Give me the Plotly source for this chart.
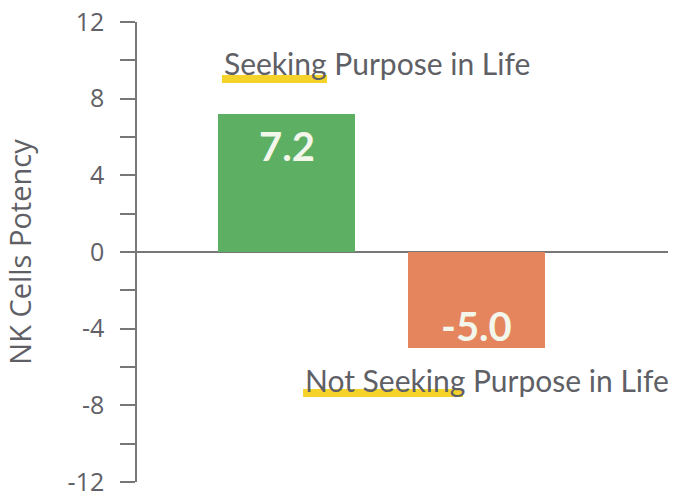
import plotly.graph_objects as go

categories = ["Seeking Purpose in Life", "Not Seeking Purpose in Life"]
values = [7.2, -5.0]
value_labels = ["7.2", "-5.0"]
bar_colors = ["#5DAF63", "#E5855D"]
y_tick_vals = [12, 8, 4, 0, -4, -8, -12]
y_tick_text = ["12", "8", "4", "0", "-4", "-8", "-12"]

x_pos = [0, 1]

fig = go.Figure()
fig.add_trace(go.Bar(
    x=x_pos, y=values, width=0.72,
    marker=dict(color=bar_colors, line=dict(width=0)),
    hoverinfo="skip",
))

# value labels placed inside the bar, near its end
label_inset = [1.67, -1.14]
for xv, v, t, d in zip(x_pos, values, value_labels, label_inset):
    fig.add_annotation(x=xv, y=v - d, xref="x", yref="y", text=t, showarrow=False,
                       xanchor="center", yanchor="middle",
                       font=dict(family="Lato", size=40, color="#F3F6EA", weight="bold"))

# Category captions with yellow highlight under the first word(s)
captions = [
    dict(x=-0.340, y=9.86, text=categories[0], hl=(-0.340, 0.213, 8.82, 9.23)),
    dict(x=0.087, y=-6.68, text=categories[1], hl=(0.087, 0.929, -7.56, -7.15)),
]
for c in captions:
    x0, x1, y0, y1 = c["hl"]
    fig.add_shape(type="rect", xref="x", yref="y", x0=x0, x1=x1, y0=y0, y1=y1,
                  fillcolor="#F6D32A", line=dict(width=0), layer="below")
    fig.add_annotation(x=c["x"], y=c["y"], xref="x", yref="y", text=c["text"],
                       showarrow=False, xanchor="left", yanchor="middle",
                       font=dict(family="Lato", size=30, color="#5F5F66"))

fig.update_layout(
    width=673, height=495,
    margin=dict(l=137, r=5, t=22, b=13),
    paper_bgcolor="white", plot_bgcolor="white",
    showlegend=False,
    bargap=0,
    xaxis=dict(range=[-0.787, 2.008], showticklabels=False, showgrid=False,
               zeroline=False, showline=False, ticks="", automargin=False),
    yaxis=dict(range=[-12, 12], tickvals=y_tick_vals, ticktext=y_tick_text,
               ticks="outside", ticklen=15, tickwidth=1.5, tickcolor="#777777",
               minor=dict(dtick=2, tick0=0, ticks="outside", ticklen=15,
                          tickwidth=1.5, tickcolor="#777777", showgrid=False),
               showline=True, linecolor="#777777", linewidth=1.5,
               showgrid=False, zeroline=True, zerolinecolor="#777777", zerolinewidth=1.5,
               tickfont=dict(family="Open Sans", size=25, color="#606066"),
               ticklabelstandoff=11, ticklabeloverflow="allow", automargin=False,
               title=dict(text="NK Cells Potency", standoff=36,
                          font=dict(family="Open Sans", size=29, color="#5F5F66"))),
)

fig.write_html("out.html", config={"displayModeBar": False},
               post_script="document.body.style.margin='0';document.body.style.overflow='hidden';")
